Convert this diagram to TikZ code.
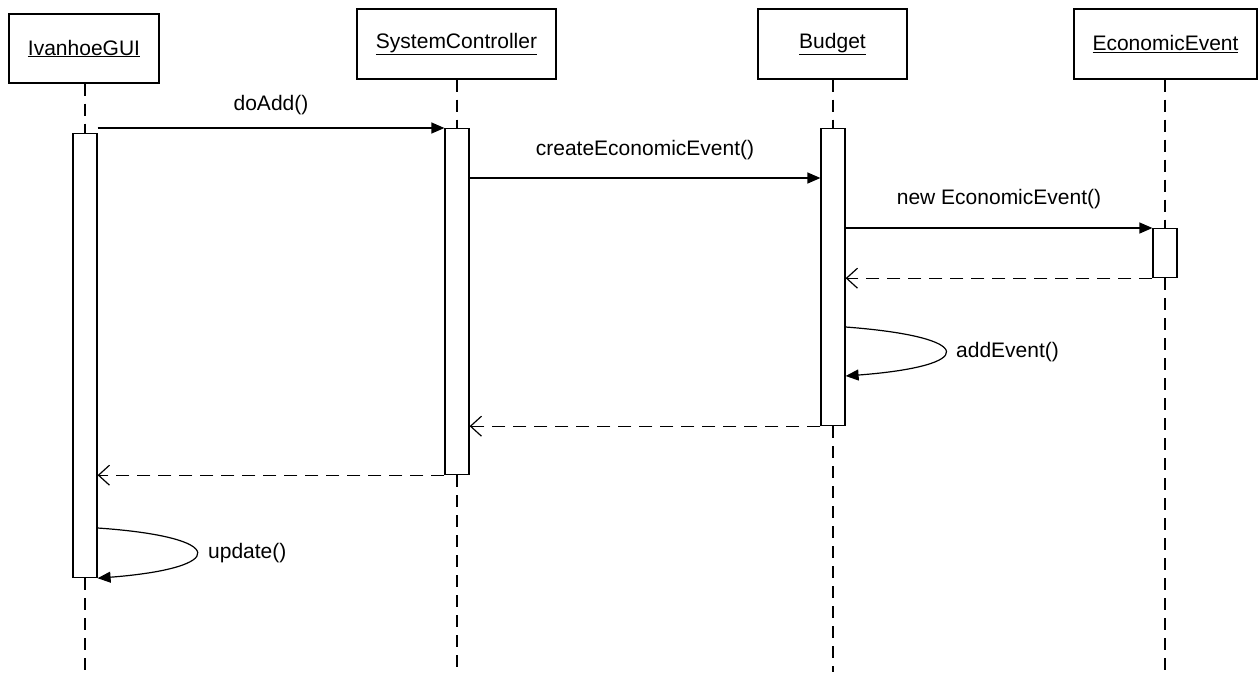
\documentclass[tikz,border=0pt]{standalone}
\usepackage{fontspec}
\setmainfont{Liberation Sans}
\usetikzlibrary{arrows.meta}
\tikzset{>=stealth}
\tikzset{
    obj/.style={draw, line width=1.2pt, minimum height=69pt, inner sep=0pt, font=\fontsize{21}{25}\selectfont},
    bar/.style={draw, fill=white, line width=1.2pt, minimum width=24pt, inner sep=0pt, anchor=north},
    lifeline/.style={line width=1.2pt, dash pattern=on 12pt off 8pt},
    msg/.style={line width=1.2pt, -{Triangle[length=13pt,width=11pt]}},
    ret/.style={line width=1.2pt, dash pattern=on 13pt off 8pt, -{Straight Barb[length=11pt,width=20pt]}},
    lbl/.style={inner sep=0pt, font=\fontsize{21}{25}\selectfont}
}

\begin{document}
\begin{tikzpicture}[x=1pt, y=-1pt]
    \useasboundingbox (0,0) rectangle (1258,672);

    % objects
    \node[obj, minimum width=150pt] (gui) at (84,48.5) {\underline{IvanhoeGUI}};
    \node[obj, minimum width=199pt, minimum height=70pt] (ctrl) at (456.5,44) {\underline{SystemController}};
    \node[obj, minimum width=149pt, minimum height=70pt] (budget) at (832.5,44) {\underline{Budget}};
    \node[obj, minimum width=183pt, minimum height=70pt] (event) at (1165.5,44) {\underline{EconomicEvent}};

    % activation bars
    \node[bar, minimum height=444pt] (guiBar) at (85,133) {};
    \node[bar, minimum height=346pt] (ctrlBar) at (457,128) {};
    \node[bar, minimum height=297pt] (budgetBar) at (833,128) {};
    \node[bar, minimum height=49pt] (eventBar) at (1165,228) {};

    % lifelines
    \coordinate (bottom) at (0,672);
    \draw [lifeline] (gui.south -| guiBar.north) -- (guiBar.north);
    \draw [lifeline] (guiBar.south) -- (guiBar.south |- bottom);
    \draw [lifeline] (ctrl.south -| ctrlBar.north) -- (ctrlBar.north);
    \draw [lifeline] (ctrlBar.south) -- (ctrlBar.south |- bottom);
    \draw [lifeline] (budget.south -| budgetBar.north) -- (budgetBar.north);
    \draw [lifeline] (budgetBar.south) -- (budgetBar.south |- bottom);
    \draw [lifeline] (event.south -| eventBar.north) -- (eventBar.north);
    \draw [lifeline] (eventBar.south) -- (eventBar.south |- bottom);

    % messages
    \coordinate (m2) at (0,178);
    \draw [msg] (guiBar.east |- ctrlBar.north) -- node[lbl, midway, above=13pt] {doAdd()} (ctrlBar.north west);
    \draw [msg] (ctrlBar.east |- m2) -- node[lbl, midway, above=18pt] {createEconomicEvent()} (budgetBar.west |- m2);
    \draw [msg] (budgetBar.east |- eventBar.north) -- node[lbl, midway, above=19pt] {new EconomicEvent()} (eventBar.north west);
    \draw [ret] (eventBar.south west) -- (budgetBar.east |- eventBar.south);

    % self calls
    \coordinate (s1) at (0,327);
    \coordinate (s2) at (0,376);
    \draw [msg] (budgetBar.east |- s1) .. controls (978,337) and (978,366) .. (budgetBar.east |- s2);
    \node[lbl, anchor=west] (addLbl) at (956,352) {addEvent()};

    \draw [ret] (budgetBar.south west) -- (ctrlBar.east |- budgetBar.south);
    \draw [ret] (ctrlBar.south west) -- (guiBar.east |- ctrlBar.south);

    \coordinate (u1) at (0,528);
    \draw [msg] (guiBar.east |- u1) .. controls (229,537) and (229,568) .. (guiBar.south east);
    \node[lbl, anchor=west] (updLbl) at (208,553) {update()};
\end{tikzpicture}
\end{document}
